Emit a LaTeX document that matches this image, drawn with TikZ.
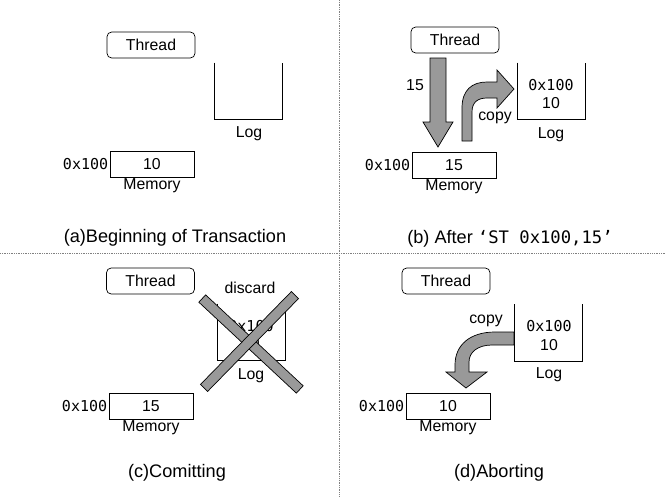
\documentclass[tikz,border=0pt]{standalone}
\usepackage{fontspec}
\setmainfont{Liberation Sans}
\setmonofont{DejaVu Sans Mono}
\usetikzlibrary{positioning}
\tikzset{
  thread/.style={draw, rounded corners=4pt, minimum width=2.64cm, minimum height=0.78cm},
  membox/.style={draw, minimum width=2.52cm, minimum height=0.78cm},
  logbox/.style={minimum width=2.01cm, minimum height=1.68cm},
  addr/.style={font=\ttfamily\fontsize{12.8}{15}\selectfont, inner sep=1pt},
  fatarrow/.style={draw, fill=black!40, line width=0.6pt, line join=miter},
  divider/.style={densely dotted, black!50, line width=0.5pt},
  caption/.style={font=\fontsize{15.5}{18}\selectfont},
}
\begin{document}
\begin{tikzpicture}[x=0.03cm, y=-0.03cm, line width=0.6pt, font=\fontsize{13.5}{16}\selectfont]
    \useasboundingbox (0,0) rectangle (666,497);
    \draw[divider] (339,0) -- (339,497);
    \draw[divider] (0,253) -- (666,253);

    % (a)
    \node[thread] (thra) at (151,45) {Thread};
    \node[logbox] (loga) at (248.5,91) {};
    \draw (loga.north west) |- (loga.south east) -- (loga.north east);
    \node (logtxta) at (249,134) {Log};
    \node[membox] (mema) at (152,164) {10};
    \node[addr, left=0pt of mema] (addra) {0x100};
    \node (memtxta) at (152,186) {Memory};
    \node[caption] (capa) at (175,238) {(a)Beginning of Transaction};

    % (b)
    \node[thread] (thrb) at (455,40) {Thread};
    \node[logbox] (logb) at (551.5,91) {};
    \draw (logb.north west) |- (logb.south east) -- (logb.north east);
    \node[addr] (logaddrb) at (551,85) {0x100};
    \node (logvalb) at (551,103) {10};
    \node (logtxtb) at (551,135) {Log};
    \node[membox] (memb) at (454,165) {15};
    \node[addr, left=0pt of memb] (addrb) {0x100};
    \node (memtxtb) at (454,187) {Memory};
    \draw[fatarrow] (430,58) -- (430,122) -- (423,122) -- (438,147) -- (453,122)
        -- (446,122) -- (446,58) -- cycle;
    \node (valb) at (415,85) {15};
    \draw[fatarrow] (462,141) -- (462,108) .. controls (462,90) and (472,82) .. (487,82)
        -- (497,82) -- (497,70) -- (514,89) -- (497,108) -- (497,98) -- (487,98)
        .. controls (478,98) and (472,102) .. (472,112) -- (472,141) -- cycle;
    \node (copyb) at (495,118) {copy};
    \node[caption] (capb) at (510,239) {(b) After {\ttfamily\fontsize{14.7}{18}\selectfont ‘ST 0x100,15’}};

    % (c)
    \node[thread] (thrc) at (150.5,281) {Thread};
    \node[logbox] (logc) at (251.5,332) {};
    \draw (logc.north west) |- (logc.south east) -- (logc.north east);
    \node[addr] (logaddrc) at (251,326) {0x100};
    \node (logvalc) at (251,343) {10};
    \node (logtxtc) at (251,376) {Log};
    \node (discc) at (250,288) {discard};
    \node[fatarrow, rotate=-43, minimum width=4.0cm, minimum height=0.3cm, inner sep=0pt] (crossa) at (251,344) {};
    \node[fatarrow, rotate=45.6, minimum width=3.9cm, minimum height=0.3cm, inner sep=0pt] (crossb) at (249.5,341.5) {};
    \node[membox] (memc) at (151,406) {15};
    \node[addr, left=0pt of memc] (addrc) {0x100};
    \node (memtxtc) at (151,428) {Memory};
    \node[caption] (capc) at (177,473) {(c)Comitting};

    % (d)
    \node[thread] (thrd) at (446,281) {Thread};
    \draw[fatarrow] (514,332) -- (495,332) .. controls (470,332) and (455,345) .. (455,365)
        -- (455,372) -- (446,372) -- (466,388) -- (487,372) -- (469,372) -- (469,362)
        .. controls (469,352) and (478,345) .. (492,345) -- (514,345) -- cycle;
    \node[logbox] (logd) at (548.5,332.5) {};
    \draw (logd.north west) |- (logd.south east) -- (logd.north east);
    \node[addr] (logaddrd) at (549,326) {0x100};
    \node (logvald) at (549,345) {10};
    \node (logtxtd) at (549,375) {Log};
    \node (copyd) at (486,321) {copy};
    \node[membox] (memd) at (448,406) {10};
    \node[addr, left=0pt of memd] (addrd) {0x100};
    \node (memtxtd) at (448,428) {Memory};
    \node[caption] (capd) at (499,473) {(d)Aborting};
\end{tikzpicture}
\end{document}
